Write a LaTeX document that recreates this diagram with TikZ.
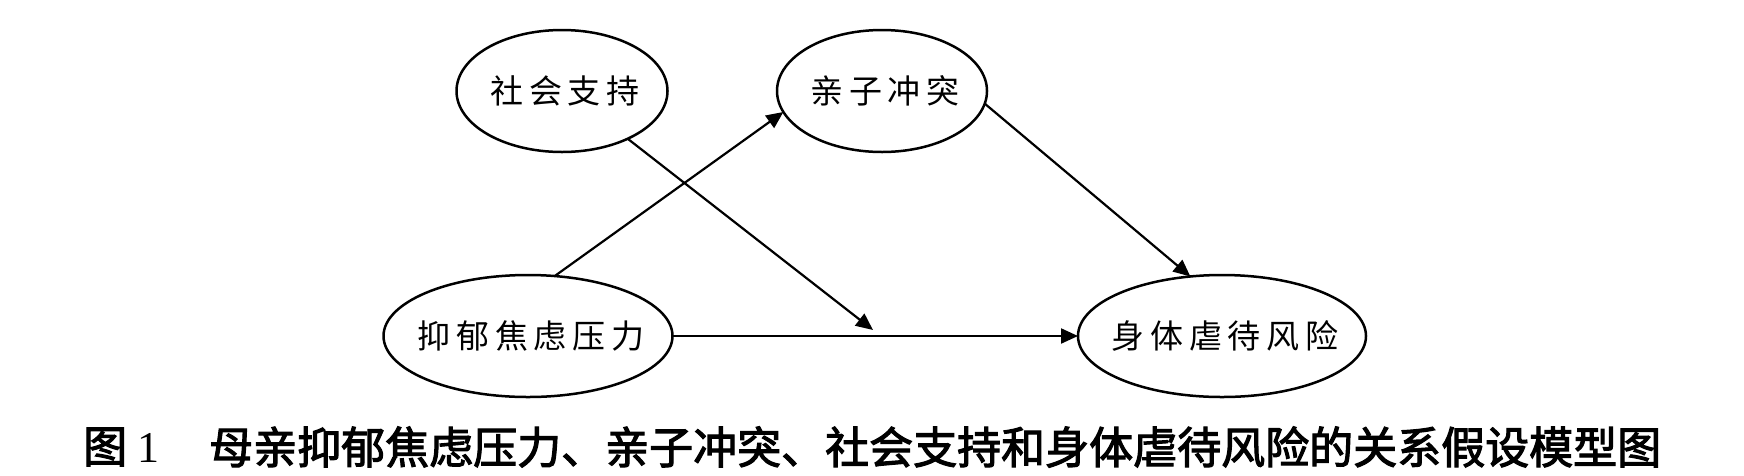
\documentclass[tikz,border=0pt]{standalone}
\usepackage{fontspec}
\usetikzlibrary{shapes.geometric,arrows.meta}
\newfontfamily\cjkwide[LetterSpace=18]{Noto Sans CJK SC}
\newfontfamily\capfont[FakeBold=2.5]{Noto Sans CJK SC}
\setmainfont{Liberation Serif}
\newcommand{\lbl}[1]{\makebox[0pt][c]{#1\hspace{-6pt}}}
\begin{document}
\begin{tikzpicture}[x=1pt,y=-1pt,
  latent/.style={ellipse,draw,line width=2.5pt,inner sep=0pt,outer sep=0pt,font=\fontsize{33}{33}\cjkwide},
  arr/.style={line width=2.2pt,-{Triangle[length=17pt,width=15pt]}},
  capstyle/.style={font=\fontsize{44}{44}\capfont,anchor=west,inner sep=0pt}]
\useasboundingbox (0,0) rectangle (1744,475);
\node[latent,minimum width=211pt,minimum height=122pt] (sup) at (562,91) {\lbl{社会支持}};
\node[latent,minimum width=210pt,minimum height=122pt] (par) at (882,91) {\lbl{亲子冲突}};
\node[latent,minimum width=289pt,minimum height=122pt] (dep) at (528,336) {\lbl{抑郁焦虑压力}};
\node[latent,minimum width=288pt,minimum height=122pt] (risk) at (1222,336) {\lbl{身体虐待风险}};
\coordinate (mod) at (873,330);
\draw[arr] (dep.66) -- (par.192);
\draw[arr] (par.353) -- (risk.118);
\draw[arr] (sup.324) -- (mod);
\draw[arr] (dep.east) -- (risk.west);
\node[capstyle] (cap1) at (83,447) {图\hspace{10pt}{\rmfamily 1}};
\node[capstyle] (cap2) at (209,447) {母亲抑郁焦虑压力、亲子冲突、社会支持和身体虐待风险的关系假设模型图};
\end{tikzpicture}
\end{document}
